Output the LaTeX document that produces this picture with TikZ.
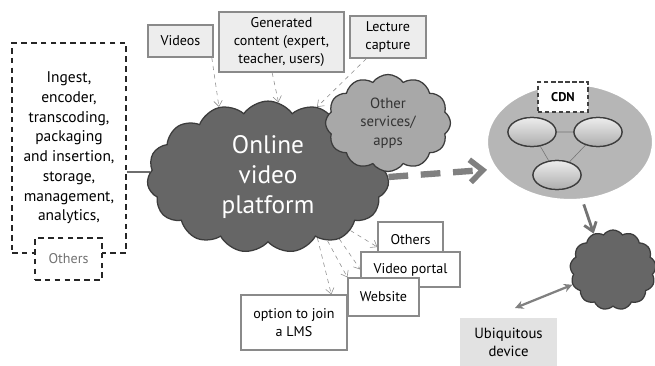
\documentclass[tikz,border=0pt]{standalone}
\usepackage{fontspec}
\setmainfont{PT Sans}
\usetikzlibrary{shapes.symbols,shapes.geometric,arrows.meta}

\definecolor{boxfill}{HTML}{EDEDED}
\definecolor{boxline}{HTML}{8A8A8A}
\definecolor{darkcloud}{HTML}{666666}
\definecolor{lightcloud}{HTML}{A8A8A8}
\definecolor{cloudline}{HTML}{3C3C3C}
\definecolor{feedgray}{HTML}{8C8C8C}
\definecolor{cdnfill}{HTML}{B6B6B6}
\definecolor{devfill}{HTML}{E2E2E2}

\newcommand{\pxl}{0.025cm}

\begin{document}
\begin{tikzpicture}[x=0.025cm,y=-0.025cm,
    src box/.style={rectangle,draw=boxline,fill=boxfill,line width=0.9pt,align=center,
      font=\fontsize{10}{12.5}\selectfont,inner sep=1pt},
    out box/.style={src box,fill=white},
    cloud node/.style={cloud,cloud puffs=15,cloud puff arc=110,draw=cloudline,
      line width=0.9pt,align=center},
    feed/.style={draw=feedgray,dashed,thin,-{Straight Barb[length=4pt,width=6pt]}},
    server/.style={ellipse,draw=cloudline,line width=0.9pt,top color=white!75!cdnfill,
      bottom color=cdnfill!95!black,minimum width=48*\pxl,minimum height=29*\pxl}]

  \useasboundingbox (0,0) rectangle (655,366);

  % Define vertices
  \node[rectangle,draw=black!85,dashed,line width=1.2pt,dash pattern=on 4pt off 3pt,
        minimum width=114*\pxl,minimum height=210*\pxl,align=center,
        font=\fontsize{11}{14}\selectfont] (tasks) at (69,148)
    {Ingest,\\encoder,\\transcoding,\\packaging\\and insertion,\\storage,\\management,\\analytics,};
  \node[rectangle,draw=black!85,dashed,line width=1.2pt,dash pattern=on 4pt off 3pt,
        fill=white,text=black!55,minimum width=67*\pxl,minimum height=42*\pxl,
        font=\fontsize{10}{12}\selectfont] (more) at (68.5,259) {Others};

  \node[src box,minimum width=65*\pxl,minimum height=32*\pxl] (videos) at (180.5,41) {Videos};
  \node[src box,minimum width=125*\pxl,minimum height=60*\pxl] (gen) at (281.5,42)
    {Generated\\content (expert,\\teacher, users)};
  \node[src box,minimum width=76*\pxl,minimum height=42*\pxl] (lecture) at (388,37)
    {Lecture\\capture};

  \draw[boxline!80!black,line width=0.9pt] (tasks.east |- 0,172) -- (150,172) coordinate (feedin);

  \node[cloud node,fill=darkcloud,aspect=1.8,minimum width=232*\pxl,minimum height=126*\pxl,
        text=white,font=\fontsize{18}{21}\selectfont] (platform) at (268,177)
    {Online\\video\\platform};
  \node[cloud node,fill=lightcloud,cloud puffs=12,aspect=1.4,minimum width=106*\pxl,
        minimum height=78*\pxl,text=black!80,font=\fontsize{10.5}{13}\selectfont]
    (services) at (388,123) {Other\\services/\\apps};

  \node[ellipse,fill=cdnfill,draw=white,line width=1.5pt,minimum width=166*\pxl,
        minimum height=116*\pxl] (cdn) at (570,142) {};
  \node[rectangle,draw=black!75,dashed,line width=1pt,dash pattern=on 3pt off 2pt,fill=white,
        minimum width=50*\pxl,minimum height=30*\pxl,font=\fontsize{9}{11}\selectfont\bfseries]
    (cdnlabel) at (563,97) {CDN};
  \node[server] (s1) at (532,132) {};
  \node[server] (s2) at (598,132) {};
  \node[server] (s3) at (557,175) {};

  \node[cloud node,fill=darkcloud,cloud puffs=13,aspect=1.1,minimum width=86*\pxl,
        minimum height=80*\pxl] (edge) at (613,270) {};
  \node[rectangle,fill=devfill,minimum width=97*\pxl,minimum height=48*\pxl,align=center,
        font=\fontsize{10.5}{13}\selectfont] (device) at (508.5,342) {Ubiquitous\\device};
  \coordinate (user) at (515,308);

  \node[out box,minimum width=65*\pxl,minimum height=36*\pxl] (others) at (410.5,240) {Others};
  \node[out box,minimum width=99*\pxl,minimum height=35*\pxl] (portal) at (410.5,269.5) {Video portal};
  \node[out box,minimum width=71*\pxl,minimum height=38*\pxl] (website) at (383.5,297) {Website};
  \node[out box,minimum width=106*\pxl,minimum height=55*\pxl] (lms) at (294,322.5)
    {option to join\\a LMS};

  % Draw edges
  \draw[feed] (videos.-28.5) -- (platform.125);
  \draw[feed] (gen.-107) -- (platform.82);
  \draw[feed] (lecture.-135) -- (platform.55);

  \draw[feed] (platform.-51) -- (lms.37);
  \draw[feed] (platform.-47) -- (website.north west);
  \draw[feed] (platform.-41) -- (portal.west);
  \draw[feed] (platform.-33) -- (others.192);

  \draw[black!50,line width=4.5pt,dash pattern=on 14pt off 9pt,
        -{Straight Barb[length=9pt,width=16pt,line width=4pt]},shorten >=6pt]
    (platform.east) -- (cdn.200);

  \draw[black!55,thin] (s1) -- (s2) (s1) -- (s3) (s2) -- (s3);
  \node[server] at (s1) {};
  \node[server] at (s2) {};
  \node[server] at (s3) {};

  \draw[black!55,line width=2pt,-{Straight Barb[length=6pt,width=9pt]},shorten <=3pt]
    (cdn.-78) -- (edge.118);
  \draw[black!50,line width=1.6pt,{Stealth[length=6pt,width=6pt]}-{Stealth[length=6pt,width=6pt]}]
    (edge.200) -- (user);

\end{tikzpicture}
\end{document}
